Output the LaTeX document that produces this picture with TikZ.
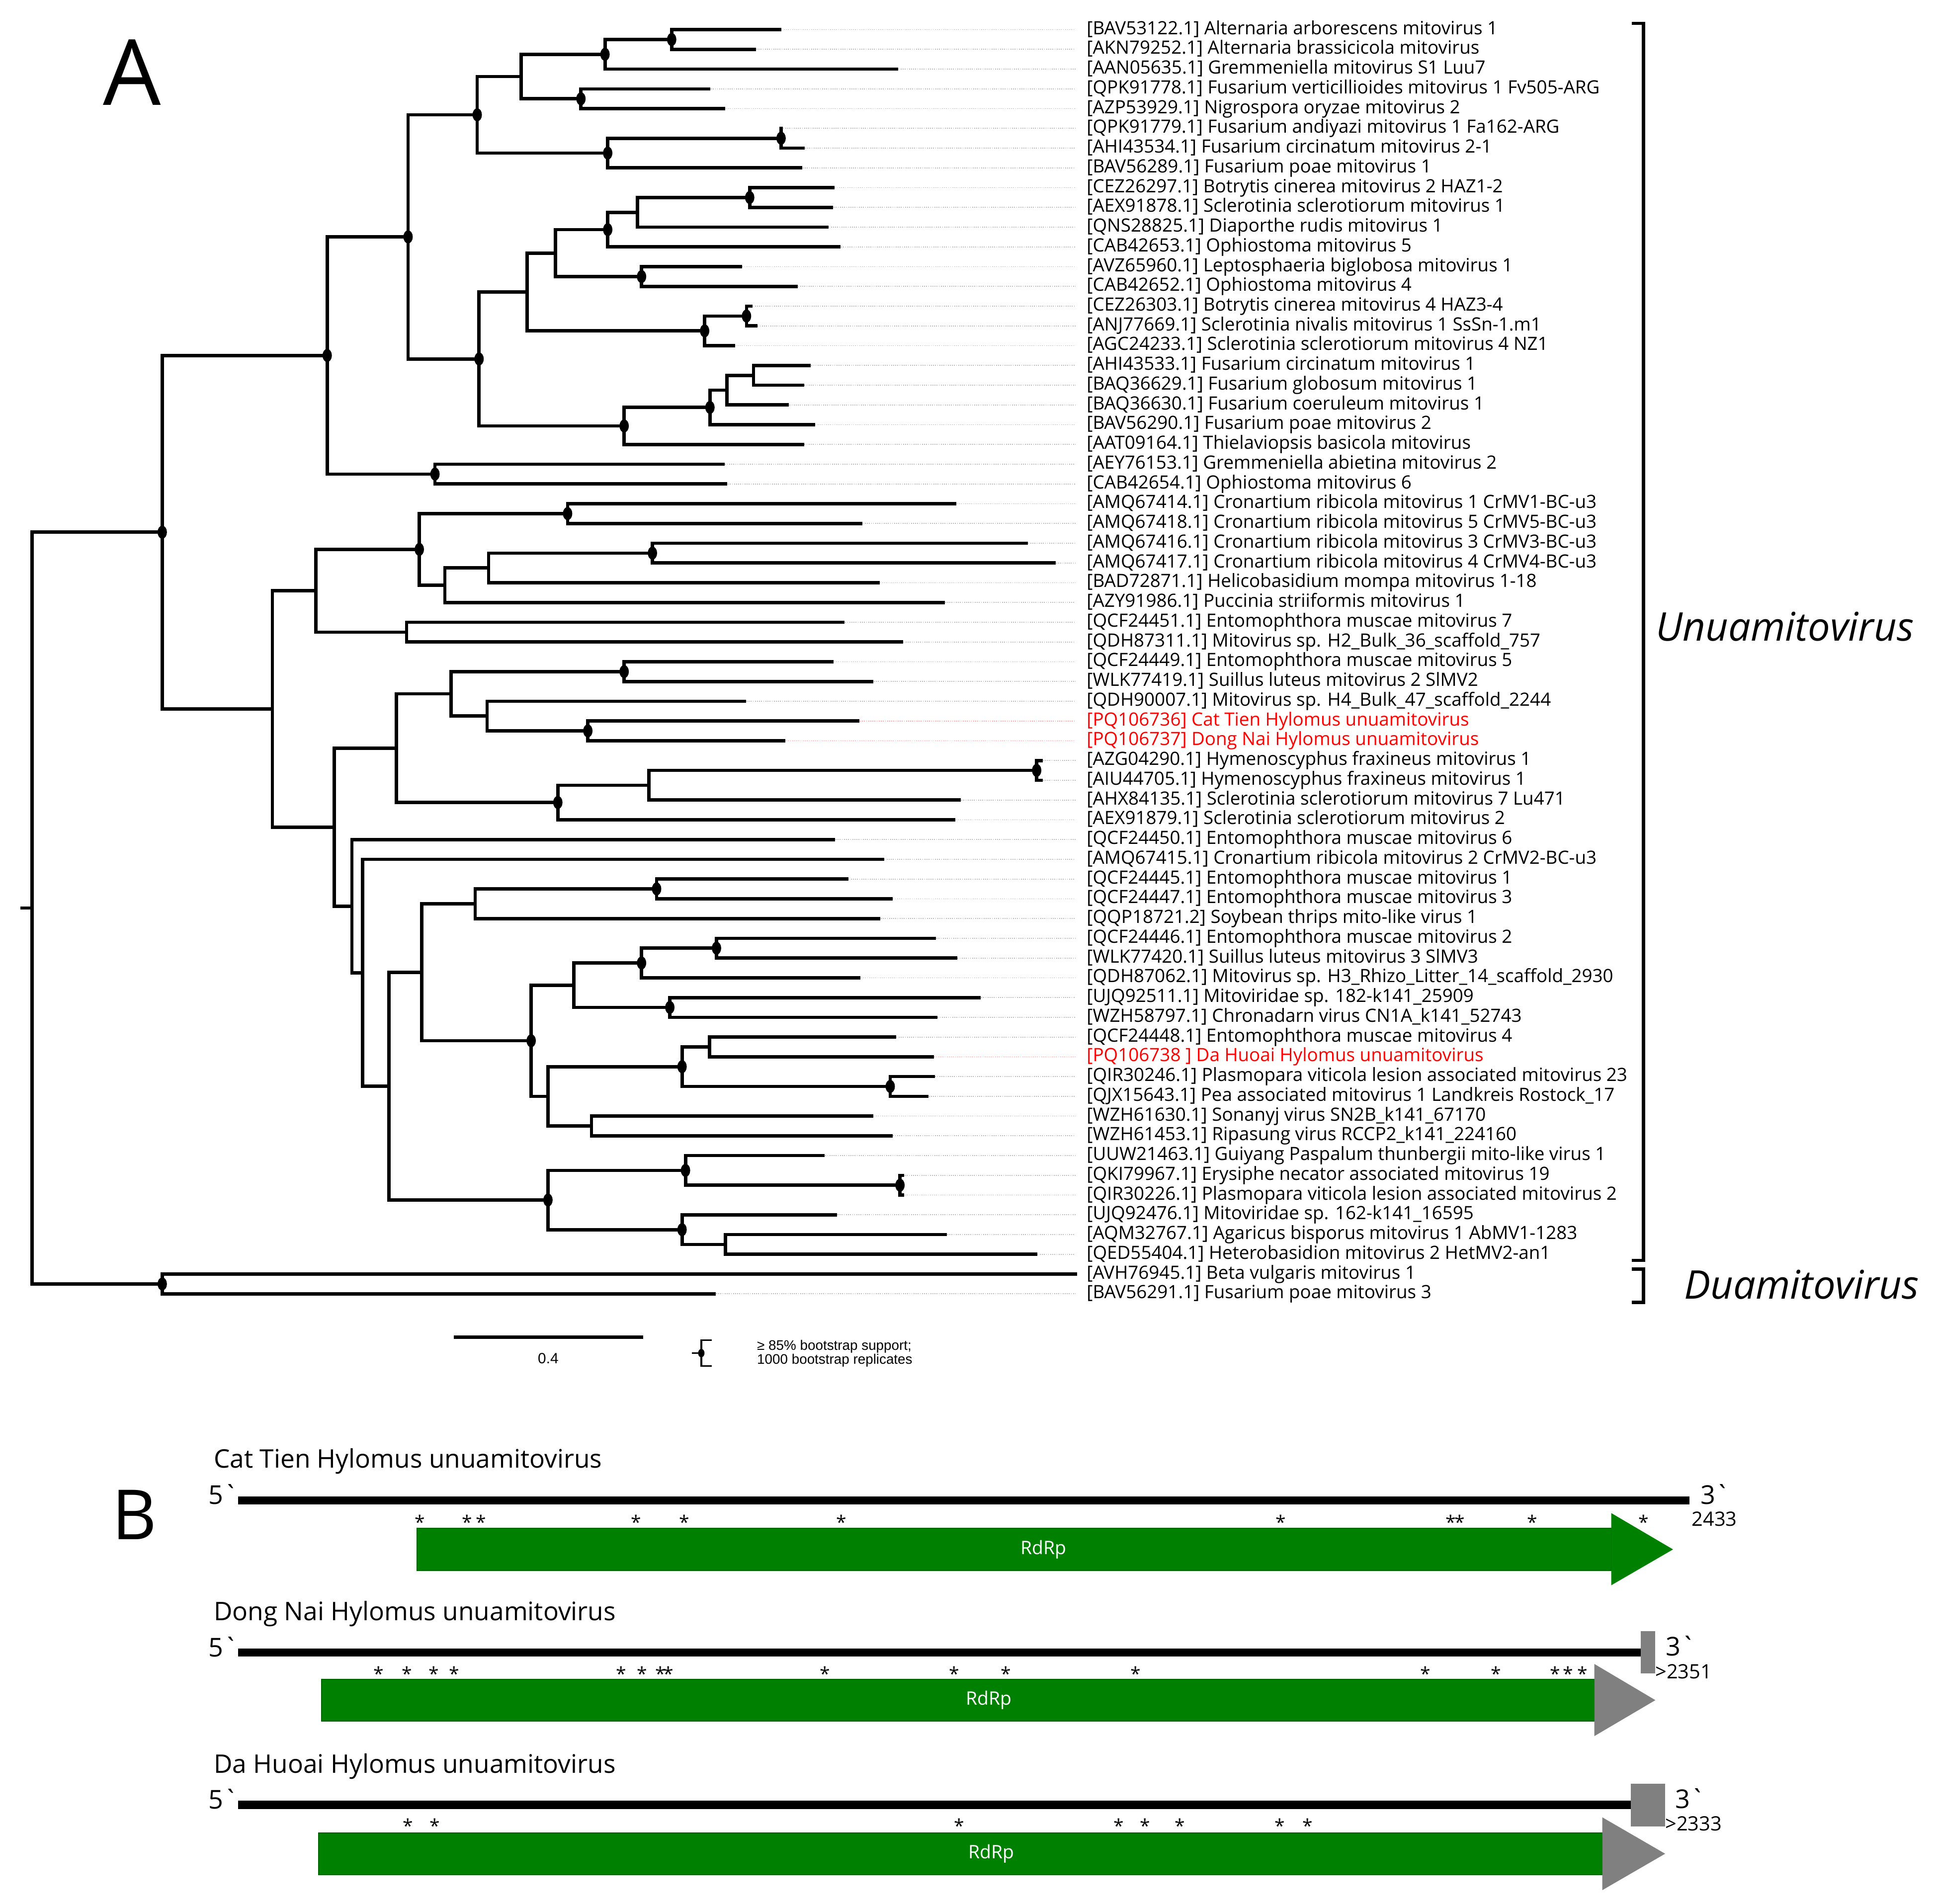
\documentclass[tikz,border=0pt]{standalone}
\usepackage{fontspec}
\setmainfont{Open Sans}
\newfontfamily\legfont{Liberation Sans}
\definecolor{gbar}{RGB}{0,128,0}
\definecolor{gbarE}{RGB}{0,95,0}
\definecolor{ghead}{RGB}{128,128,128}
\definecolor{leadc}{RGB}{185,185,185}
\definecolor{leadr}{RGB}{255,165,165}
\newcommand\brn[2]{\draw[br] (#1) |- (#2);}
\newcommand\bsdot[1]{\fill (#1) ellipse [x radius=3.8pt, y radius=5.3pt];}
\newcommand\leafnode[4]{\coordinate (l#1) at (#3,#2);\node[lab] (t#1) at (880,#2) {#4};\draw[leader] (l#1) -- (t#1.west);}
\newcommand\leafred[4]{\coordinate (l#1) at (#3,#2);\node[lab,text=red] (t#1) at (880,#2) {#4};\draw[leader,leadr] (l#1) -- (t#1.west);}
\begin{document}
\begin{tikzpicture}[x=1pt,y=-1pt,
  br/.style={line width=2.7pt, line cap=rect, line join=miter},
  lab/.style={anchor=west, inner sep=0pt, font=\fontsize{14.8}{16}\selectfont, text height=10.4pt, text depth=2.8pt},
  leader/.style={leadc, line width=0.7pt, dash pattern=on 0.7pt off 1pt, shorten >=9pt},
  stark/.style={anchor=base, inner sep=0pt, font=\fontsize{15}{16}\selectfont},
  ttl/.style={anchor=base west, inner sep=0pt, font=\fontsize{20.7}{22}\selectfont},
  endl/.style={inner sep=0pt, font=\fontsize{21}{22}\selectfont},
  numl/.style={anchor=base west, inner sep=0pt, font=\fontsize{16}{18}\selectfont},
  rdrp/.style={inner sep=0pt, text=white, font=\fontsize{15}{16}\selectfont},
  clade/.style={anchor=base west, inner sep=0pt, font=\fontsize{32}{34}\selectfont\itshape},
  panel/.style={anchor=base, inner sep=0pt}]
\fill[white] (0,0) rectangle (1568,1542);
\useasboundingbox (0,0) rectangle (1568,1542);

% ---------------- leaves ----------------
\leafnode{1}{24}{631.4}{[BAV53122.1] Alternaria arborescens mitovirus 1}
\leafnode{2}{40}{611}{[AKN79252.1] Alternaria brassicicola mitovirus}
\leafnode{3}{56}{726}{[AAN05635.1] Gremmeniella mitovirus S1 Luu7}
\leafnode{4}{72}{574}{[QPK91778.1] Fusarium verticillioides mitovirus 1 Fv505-ARG}
\leafnode{5}{88}{586}{[AZP53929.1] Nigrospora oryzae mitovirus 2}
\leafnode{6}{104}{632.6}{[QPK91779.1] Fusarium andiyazi mitovirus 1 Fa162-ARG}
\leafnode{7}{120}{650.4}{[AHI43534.1] Fusarium circinatum mitovirus 2-1}
\leafnode{8}{136}{648.4}{[BAV56289.1] Fusarium poae mitovirus 1}
\leafnode{9}{152}{674.4}{[CEZ26297.1] Botrytis cinerea mitovirus 2 HAZ1-2}
\leafnode{10}{168}{673.5}{[AEX91878.1] Sclerotinia sclerotiorum mitovirus 1}
\leafnode{11}{184}{669.6}{[QNS28825.1] Diaporthe rudis mitovirus 1}
\leafnode{12}{200}{679.5}{[CAB42653.1] Ophiostoma mitovirus 5}
\leafnode{13}{216}{599.5}{[AVZ65960.1] Leptosphaeria biglobosa mitovirus 1}
\leafnode{14}{232}{644.7}{[CAB42652.1] Ophiostoma mitovirus 4}
\leafnode{15}{248}{608}{[CEZ26303.1] Botrytis cinerea mitovirus 4 HAZ3-4}
\leafnode{16}{264}{612}{[ANJ77669.1] Sclerotinia nivalis mitovirus 1 SsSn-1.m1}
\leafnode{17}{280}{594}{[AGC24233.1] Sclerotinia sclerotiorum mitovirus 4 NZ1}
\leafnode{18}{296}{655.4}{[AHI43533.1] Fusarium circinatum mitovirus 1}
\leafnode{19}{312}{649.8}{[BAQ36629.1] Fusarium globosum mitovirus 1}
\leafnode{20}{328}{637.7}{[BAQ36630.1] Fusarium coeruleum mitovirus 1}
\leafnode{21}{344}{658.8}{[BAV56290.1] Fusarium poae mitovirus 2}
\leafnode{22}{360}{649.8}{[AAT09164.1] Thielaviopsis basicola mitovirus}
\leafnode{23}{376}{585.4}{[AEY76153.1] Gremmeniella abietina mitovirus 2}
\leafnode{24}{392}{587.7}{[CAB42654.1] Ophiostoma mitovirus 6}
\leafnode{25}{408}{773.2}{[AMQ67414.1] Cronartium ribicola mitovirus 1 CrMV1-BC-u3}
\leafnode{26}{424}{697}{[AMQ67418.1] Cronartium ribicola mitovirus 5 CrMV5-BC-u3}
\leafnode{27}{440}{831.1}{[AMQ67416.1] Cronartium ribicola mitovirus 3 CrMV3-BC-u3}
\leafnode{28}{456}{853.7}{[AMQ67417.1] Cronartium ribicola mitovirus 4 CrMV4-BC-u3}
\leafnode{29}{472}{711.1}{[BAD72871.1] Helicobasidium mompa mitovirus 1-18}
\leafnode{30}{488}{763.9}{[AZY91986.1] Puccinia striiformis mitovirus 1}
\leafnode{31}{504}{682.8}{[QCF24451.1] Entomophthora muscae mitovirus 7}
\leafnode{32}{520}{730}{[QDH87311.1] Mitovirus sp. H2\_Bulk\_36\_scaffold\_757}
\leafnode{33}{536}{673.8}{[QCF24449.1] Entomophthora muscae mitovirus 5}
\leafnode{34}{552}{706}{[WLK77419.1] Suillus luteus mitovirus 2 SlMV2}
\leafnode{35}{568}{602.9}{[QDH90007.1] Mitovirus sp. H4\_Bulk\_47\_scaffold\_2244}
\leafred{36}{584}{694.7}{[PQ106736] Cat Tien Hylomus unuamitovirus}
\leafred{37}{600}{634.8}{[PQ106737] Dong Nai Hylomus unuamitovirus}
\leafnode{38}{616}{843.2}{[AZG04290.1] Hymenoscyphus fraxineus mitovirus 1}
\leafnode{39}{632}{843.2}{[AIU44705.1] Hymenoscyphus fraxineus mitovirus 1}
\leafnode{40}{648}{776.9}{[AHX84135.1] Sclerotinia sclerotiorum mitovirus 7 Lu471}
\leafnode{41}{664}{772.4}{[AEX91879.1] Sclerotinia sclerotiorum mitovirus 2}
\leafnode{42}{680}{675}{[QCF24450.1] Entomophthora muscae mitovirus 6}
\leafnode{43}{696}{714.7}{[AMQ67415.1] Cronartium ribicola mitovirus 2 CrMV2-BC-u3}
\leafnode{44}{712}{685.7}{[QCF24445.1] Entomophthora muscae mitovirus 1}
\leafnode{45}{728}{721.5}{[QCF24447.1] Entomophthora muscae mitovirus 3}
\leafnode{46}{744}{711.6}{[QQP18721.2] Soybean thrips mito-like virus 1}
\leafnode{47}{760}{756.8}{[QCF24446.1] Entomophthora muscae mitovirus 2}
\leafnode{48}{776}{773.8}{[WLK77420.1] Suillus luteus mitovirus 3 SlMV3}
\leafnode{49}{792}{695.5}{[QDH87062.1] Mitovirus sp. H3\_Rhizo\_Litter\_14\_scaffold\_2930}
\leafnode{50}{808}{793}{[UJQ92511.1] Mitoviridae sp. 182-k141\_25909}
\leafnode{51}{824}{757.7}{[WZH58797.1] Chronadarn virus CN1A\_k141\_52743}
\leafnode{52}{840}{724.4}{[QCF24448.1] Entomophthora muscae mitovirus 4}
\leafred{53}{856}{754.9}{[PQ106738 ] Da Huoai Hylomus unuamitovirus}
\leafnode{54}{872}{755.7}{[QIR30246.1] Plasmopara viticola lesion associated mitovirus 23}
\leafnode{55}{888}{750.6}{[QJX15643.1] Pea associated mitovirus 1 Landkreis Rostock\_17}
\leafnode{56}{904}{706}{[WZH61630.1] Sonanyj virus SN2B\_k141\_67170}
\leafnode{57}{920}{721.5}{[WZH61453.1] Ripasung virus RCCP2\_k141\_224160}
\leafnode{58}{936}{666.7}{[UUW21463.1] Guiyang Paspalum thunbergii mito-like virus 1}
\leafnode{59}{952}{731}{[QKI79967.1] Erysiphe necator associated mitovirus 19}
\leafnode{60}{968}{731}{[QIR30226.1] Plasmopara viticola lesion associated mitovirus 2}
\leafnode{61}{984}{676.6}{[UJQ92476.1] Mitoviridae sp. 162-k141\_16595}
\leafnode{62}{1000}{765.6}{[AQM32767.1] Agaricus bisporus mitovirus 1 AbMV1-1283}
\leafnode{63}{1016}{838.7}{[QED55404.1] Heterobasidion mitovirus 2 HetMV2-an1}
\coordinate (l64) at (871.2,1032);
\node[lab] (t64) at (880,1032) {[AVH76945.1] Beta vulgaris mitovirus 1};
\leafnode{65}{1048}{578.4}{[BAV56291.1] Fusarium poae mitovirus 3}

% ---------------- internal nodes ----------------
\coordinate (Rs) at (18,735.5);
\coordinate (R) at (26,735.5);
\coordinate (A1) at (131.4,431.07);
\coordinate (A2) at (131.4,1040);
\coordinate (B1) at (265,287.94);
\coordinate (B2) at (330.5,191.875);
\coordinate (B3) at (352.3,384);
\coordinate (B4) at (386.5,93);
\coordinate (B5) at (388,290.75);
\coordinate (B6) at (422,62);
\coordinate (B7) at (492.2,124);
\coordinate (B8) at (490,44);
\coordinate (B9) at (470.5,80);
\coordinate (B10) at (544,32);
\coordinate (B11) at (632.6,112);
\coordinate (B12) at (427,236.5);
\coordinate (B13) at (505.5,345);
\coordinate (B14) at (450,205);
\coordinate (B15) at (570.7,268);
\coordinate (B16) at (492.2,186);
\coordinate (B17) at (519.6,224);
\coordinate (B18) at (516.2,172);
\coordinate (B19) at (607.2,160);
\coordinate (B20) at (604.6,256);
\coordinate (B21) at (575,330);
\coordinate (B22) at (588.8,316);
\coordinate (B23) at (610.3,304);
\coordinate (C1) at (220.6,574.2);
\coordinate (C2) at (255.7,478.5);
\coordinate (C3) at (270.8,669.97);
\coordinate (C4) at (339.6,445);
\coordinate (C5) at (329.3,512);
\coordinate (C6) at (459.7,416);
\coordinate (C7) at (360.3,474);
\coordinate (C8) at (395.7,460);
\coordinate (C9) at (528.4,448);
\coordinate (C10) at (321,606);
\coordinate (C11) at (285,733.94);
\coordinate (C12) at (365.3,562);
\coordinate (C13) at (451.8,650);
\coordinate (C14) at (505.5,544);
\coordinate (C15) at (394.5,580);
\coordinate (C16) at (476.1,592);
\coordinate (C17) at (525.5,636);
\coordinate (C18) at (839.6,624);
\coordinate (C19) at (293.8,787.875);
\coordinate (C20) at (315.1,879.75);
\coordinate (C21) at (341.7,787.5);
\coordinate (C22) at (443.8,972);
\coordinate (C23) at (384.8,732);
\coordinate (C24) at (430.2,843);
\coordinate (C25) at (531.8,720);
\coordinate (C26) at (464.8,798);
\coordinate (C27) at (443.8,888);
\coordinate (C28) at (519.6,780);
\coordinate (C29) at (542.5,816);
\coordinate (C30) at (580.3,768);
\coordinate (C31) at (552.4,864);
\coordinate (C32) at (479,912);
\coordinate (C33) at (574.7,848);
\coordinate (C34) at (721,880);
\coordinate (C35) at (555.2,948);
\coordinate (C36) at (552.4,996);
\coordinate (C37) at (728.9,960);
\coordinate (C38) at (587.4,1008);

% ---------------- branches ----------------
\draw[br] (Rs) -- (R);
\brn{R}{A1}\brn{R}{A2}
\brn{A2}{l64}\brn{A2}{l65}
\brn{A1}{B1}\brn{A1}{C1}
\brn{B1}{B2}\brn{B1}{B3}
\brn{B3}{l23}\brn{B3}{l24}
\brn{B2}{B4}\brn{B2}{B5}
\brn{B4}{B6}\brn{B4}{B7}
\brn{B6}{B8}\brn{B6}{B9}
\brn{B8}{B10}\brn{B8}{l3}
\brn{B10}{l1}\brn{B10}{l2}
\brn{B9}{l4}\brn{B9}{l5}
\brn{B7}{B11}\brn{B7}{l8}
\brn{B11}{l6}\brn{B11}{l7}
\brn{B5}{B12}\brn{B5}{B13}
\brn{B12}{B14}\brn{B12}{B15}
\brn{B14}{B16}\brn{B14}{B17}
\brn{B16}{B18}\brn{B16}{l12}
\brn{B18}{B19}\brn{B18}{l11}
\brn{B19}{l9}\brn{B19}{l10}
\brn{B17}{l13}\brn{B17}{l14}
\brn{B15}{B20}\brn{B15}{l17}
\brn{B20}{l15}\brn{B20}{l16}
\brn{B13}{B21}\brn{B13}{l22}
\brn{B21}{B22}\brn{B21}{l21}
\brn{B22}{B23}\brn{B22}{l20}
\brn{B23}{l18}\brn{B23}{l19}
\brn{C1}{C2}\brn{C1}{C3}
\brn{C2}{C4}\brn{C2}{C5}
\brn{C4}{C6}\brn{C4}{C7}
\brn{C6}{l25}\brn{C6}{l26}
\brn{C7}{C8}\brn{C7}{l30}
\brn{C8}{C9}\brn{C8}{l29}
\brn{C9}{l27}\brn{C9}{l28}
\brn{C5}{l31}\brn{C5}{l32}
\brn{C3}{C10}\brn{C3}{C11}
\brn{C10}{C12}\brn{C10}{C13}
\brn{C12}{C14}\brn{C12}{C15}
\brn{C14}{l33}\brn{C14}{l34}
\brn{C15}{l35}\brn{C15}{C16}
\brn{C16}{l36}\brn{C16}{l37}
\brn{C13}{C17}\brn{C13}{l41}
\brn{C17}{C18}\brn{C17}{l40}
\brn{C18}{l38}\brn{C18}{l39}
\brn{C11}{l42}\brn{C11}{C19}
\brn{C19}{l43}\brn{C19}{C20}
\brn{C20}{C21}\brn{C20}{C22}
\brn{C21}{C23}\brn{C21}{C24}
\brn{C23}{C25}\brn{C23}{l46}
\brn{C25}{l44}\brn{C25}{l45}
\brn{C24}{C26}\brn{C24}{C27}
\brn{C26}{C28}\brn{C26}{C29}
\brn{C28}{C30}\brn{C28}{l49}
\brn{C30}{l47}\brn{C30}{l48}
\brn{C29}{l50}\brn{C29}{l51}
\brn{C27}{C31}\brn{C27}{C32}
\brn{C31}{C33}\brn{C31}{C34}
\brn{C33}{l52}\brn{C33}{l53}
\brn{C34}{l54}\brn{C34}{l55}
\brn{C32}{l56}\brn{C32}{l57}
\brn{C22}{C35}\brn{C22}{C36}
\brn{C35}{l58}\brn{C35}{C37}
\brn{C37}{l59}\brn{C37}{l60}
\brn{C36}{l61}\brn{C36}{C38}
\brn{C38}{l62}\brn{C38}{l63}

% ---------------- bootstrap dots ----------------
\foreach \n in {A1,A2,B1,B2,B3,B4,B5,B7,B8,B9,B10,B11,B13,B15,B16,B17,B19,B20,B21,
  C4,C6,C9,C13,C14,C16,C18,C22,C24,C25,C28,C29,C30,C31,C34,C35,C36,C37}
  {\bsdot{\n}}

% ---------------- clade brackets ----------------
\draw[line width=2.6pt, line cap=rect] (1323,19) -- (1331,19) -- (1331,1021) -- (1323,1021);
\draw[line width=2.6pt, line cap=rect] (1323,1028) -- (1331,1028) -- (1331,1055) -- (1323,1055);
\node[clade] (uname) at (1341,519) {Unuamitovirus};
\node[clade] (dname) at (1364,1052) {Duamitovirus};

% ---------------- panel letters ----------------
\node[panel, font=\fontsize{74}{76}\selectfont] (pA) at (107,85) {A};
\node[panel, font=\fontsize{56}{58}\selectfont] (pB) at (109,1247) {B};

% ---------------- scale bar & legend ----------------
\coordinate (sb1) at (367.6,1083);
\coordinate (sb2) at (521,1083);
\draw[line width=3pt] (sb1) -- (sb2);
\node[anchor=base, inner sep=0pt, font=\legfont\fontsize{12}{13}\selectfont] (sbl) at (444,1104.4) {0.4};
\draw[line width=1.4pt] (576.6,1085.6) -- (568,1085.6) -- (568,1106.4) -- (576.6,1106.4);
\draw[line width=1.4pt] (560.2,1096) -- (568,1096);
\fill (568,1096) ellipse [x radius=2.6pt, y radius=3.4pt];
\node[anchor=base west, inner sep=0pt, font=\legfont\fontsize{11.2}{12}\selectfont] (leg1) at (613,1093.5) {≥ 85\% bootstrap support;};
\node[anchor=base west, inner sep=0pt, font=\legfont\fontsize{11.2}{12}\selectfont] (leg2) at (613,1105) {1000 bootstrap replicates};

% ---------------- panel B: Cat Tien ----------------
\node[ttl] (ti1) at (173,1189) {Cat Tien Hylomus unuamitovirus};
\node[endl, anchor=base] (f1) at (181,1218.5) {5\textasciigrave};
\fill (193,1212.3) rectangle (1368.5,1218.7);
\node[endl, anchor=base west] (e1) at (1377,1218.5) {3\textasciigrave};
\node[numl] (n1) at (1370,1236) {2433};
\fill[gbar, draw=gbarE, line width=0.8pt] (337.7,1238) rectangle (1305,1272);
\fill[gbar] (1305,1225.6) -- (1355,1255) -- (1305,1284) -- cycle;
\node[rdrp] (r1) at (845,1255) {RdRp};
\foreach \x [count=\i] in {340,378.3,389.5,515.2,554.2,681.6,1037.4,1175.1,1182.3,1241.2,1331.1}
  \node[stark] (sa\i) at (\x,1238.4) {*};

% ---------------- panel B: Dong Nai ----------------
\node[ttl] (ti2) at (173,1312.4) {Dong Nai Hylomus unuamitovirus};
\node[endl, anchor=base] (f2) at (181,1341.8) {5\textasciigrave};
\fill (193,1335.2) rectangle (1329,1341.6);
\fill[ghead] (1328.8,1321.1) rectangle (1340.7,1355.3);
\node[endl, anchor=base west] (e2) at (1349,1341) {3\textasciigrave};
\node[numl] (n2) at (1340.5,1359.5) {>2351};
\fill[gbar, draw=gbarE, line width=0.8pt] (260.5,1360.3) rectangle (1291.3,1394.1);
\fill[ghead] (1291.3,1347.8) -- (1340.7,1377.1) -- (1291.3,1406.2) -- cycle;
\node[rdrp] (r2) at (801,1377) {RdRp};
\foreach \x [count=\i] in {306.7,329.8,351.2,368,503.3,520,535,541.5,668,773,814.5,919.6,1154.5,1211.8,1259.6,1269.9,1281.8}
  \node[stark] (sb\i) at (\x,1361.4) {*};

% ---------------- panel B: Da Huoai ----------------
\node[ttl] (ti3) at (173,1436) {Da Huoai Hylomus unuamitovirus};
\node[endl, anchor=base] (f3) at (181,1465.2) {5\textasciigrave};
\fill (193,1458.6) rectangle (1321,1465.4);
\fill[ghead] (1320.8,1444.6) rectangle (1348.6,1479.3);
\node[endl, anchor=base west] (e3) at (1356.5,1464.6) {3\textasciigrave};
\node[numl] (n3) at (1348.5,1483) {>2333};
\fill[gbar, draw=gbarE, line width=0.8pt] (258,1484.7) rectangle (1297.7,1518.5);
\fill[ghead] (1297.7,1472) -- (1348.6,1501.5) -- (1297.7,1531) -- cycle;
\node[rdrp] (r3) at (803,1501.5) {RdRp};
\foreach \x [count=\i] in {330.5,352,777,906,927.5,955.4,1036.6,1058.9}
  \node[stark] (sc\i) at (\x,1484.5) {*};
\end{tikzpicture}
\end{document}
